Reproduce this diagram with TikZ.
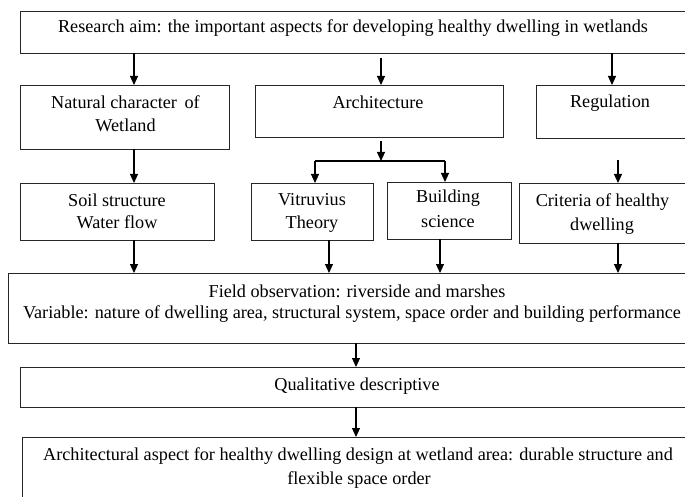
\documentclass[tikz,border=0pt]{standalone}
\usepackage{fontspec}
\setmainfont{Liberation Serif}
\usetikzlibrary{arrows.meta}
\tikzset{
  box/.style={draw=black!85, line width=0.9pt, rectangle, inner sep=0pt, outer sep=0pt},
  txt/.style={anchor=base, inner sep=0pt, font=\fontsize{18.2}{24}\selectfont},
  arr/.style={draw=black, line width=1.1pt, -{Triangle[length=9pt,width=8pt]}},
  ln/.style={draw=black, line width=1.1pt},
}
\newcommand{\bx}[5]{\node[box, minimum width={(#4-#2)*1pt}, minimum height={(#5-#3)*1pt}] (#1) at ({(#2+#4)/2},{(#3+#5)/2}) {};}
\begin{document}
\begin{tikzpicture}[x=1pt,y=-1pt]
\clip (0,0) rectangle (685,497);
\fill[white] (0,0) rectangle (685,497);
% boxes
\bx{top}{20}{11}{705}{53}
\bx{nat}{20}{85}{229}{149}
\bx{arch}{255}{85}{503}{137}
\bx{reg}{536}{85}{705}{138}
\bx{soil}{20}{183}{214}{240}
\bx{vit}{251}{183}{373}{240}
\bx{bld}{387}{182}{511}{239}
\bx{crit}{519}{183}{705}{243}
\bx{field}{8}{273}{705}{343}
\bx{qual}{20}{367}{705}{407}
\bx{final}{22}{437}{705}{515}
% texts
\node[txt] (t-top) at (353,33) {Research aim: the important aspects for developing healthy dwelling in wetlands};
\node[txt] (t-nat1) at (125.5,109) {Natural character\, of};
\node[txt] (t-nat2) at (125.5,132) {Wetland};
\node[txt] (t-arch) at (378,109) {Architecture};
\node[txt] (t-reg) at (610,108) {Regulation};
\node[txt] (t-soil1) at (117,207) {Soil structure};
\node[txt] (t-soil2) at (117,228) {Water flow};
\node[txt] (t-vit1) at (312,205) {Vitruvius};
\node[txt] (t-vit2) at (312,229) {Theory};
\node[txt] (t-bld1) at (448,203) {Building};
\node[txt] (t-bld2) at (448,227) {science};
\node[txt] (t-crit1) at (602.5,207) {Criteria of healthy};
\node[txt] (t-crit2) at (602,230) {dwelling};
\node[txt] (t-field1) at (357,297) {Field observation: riverside and marshes};
\node[txt] (t-field2) at (352,318) {Variable: nature of dwelling area, structural system, space order and building performance};
\node[txt] (t-qual) at (357,390) {Qualitative descriptive};
\node[txt] (t-fin1) at (358,460) {Architectural aspect for healthy dwelling design at wetland area: durable structure and};
\node[txt] (t-fin2) at (359,484) {flexible space order};
% column coordinates
\coordinate (c1) at (134,0);
\coordinate (c2) at (381,0);
\coordinate (c3) at (612,0);
\coordinate (cv) at (315,0);
\coordinate (cb) at (445,0);
\coordinate (cvo) at (329,0);
\coordinate (cbo) at (440,0);
\coordinate (cc) at (618,0);
\coordinate (cm) at (356,0);
\coordinate (j) at (381,161);
\coordinate (rs) at (618,160);
% connectors
\draw[arr] (c1 |- top.south) -- (c1 |- nat.north);
\draw[arr] ([yshift=-5pt]c2 |- top.south) -- (c2 |- arch.north);
\draw[arr] (c3 |- top.south) -- (c3 |- reg.north);
\draw[arr] (c1 |- nat.south) -- (c1 |- soil.north);
\draw[arr] ([yshift=-4pt]c2 |- arch.south) -- (j);
\draw[ln] (cv |- j) -- (cb |- j);
\draw[arr] (cv |- j) -- (cv |- vit.north);
\draw[arr] (cb |- j) -- (cb |- bld.north);
\draw[arr] (rs) -- (cc |- crit.north);
\draw[arr] (c1 |- soil.south) -- (c1 |- field.north);
\draw[arr] (cvo |- vit.south) -- (cvo |- field.north);
\draw[arr] (cbo |- bld.south) -- (cbo |- field.north);
\draw[arr] (cc |- crit.south) -- (cc |- field.north);
\draw[arr] (cm |- field.south) -- (cm |- qual.north);
\draw[arr] (cm |- qual.south) -- (cm |- final.north);
\end{tikzpicture}
\end{document}
